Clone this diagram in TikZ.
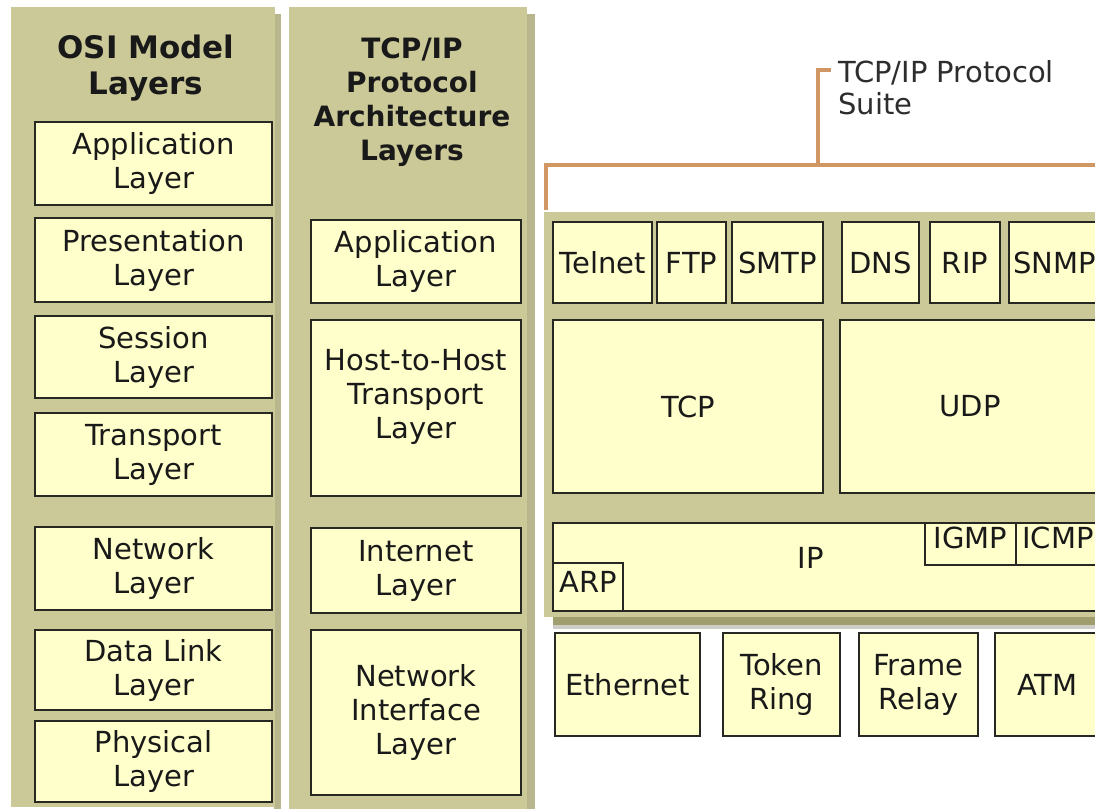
\documentclass[tikz,border=0pt]{standalone}
\usepackage{fontspec}
\setmainfont{DejaVu Sans}

\definecolor{panelbg}{RGB}{204,201,153}
\definecolor{colshadow}{RGB}{184,182,140}
\definecolor{panelshadow}{RGB}{160,157,110}
\definecolor{panelshadelt}{RGB}{205,205,200}
\definecolor{boxbg}{RGB}{255,255,204}
\definecolor{boxline}{RGB}{40,40,35}
\definecolor{braceline}{RGB}{208,150,100}
\definecolor{inkc}{RGB}{25,25,25}

\tikzset{
  layerbox/.style={draw=boxline, line width=2.5pt, fill=boxbg, inner sep=0pt,
    align=center, text=inkc, font=\fontsize{29}{34}\selectfont},
  coltitle/.style={inner sep=0pt, align=center, text=inkc},
  suitetext/.style={inner sep=0pt, align=left, text={rgb,255:red,45;green,45;blue,45},
    font=\fontsize{29}{32}\selectfont},
  brace/.style={draw=braceline, line width=4pt},
  plaintext/.style={inner sep=0pt, text=inkc, font=\fontsize{29}{34}\selectfont},
}

% box given by its corners (x1,y1) and (x2,y2), y measured downwards
\newcommand{\layerrect}[7][]{%
  \node[layerbox,minimum width={(#5)-(#3)},minimum height={(#6)-(#4)},#1]
    (#2) at ({((#3)+(#5))/2},{((#4)+(#6))/2}) {#7};}

\begin{document}
\begin{tikzpicture}[x=1pt,y=-1pt]
\useasboundingbox (0,0) rectangle (1095,809);
\clip (0,0) rectangle (1095,809);
\fill[white] (0,0) rectangle (1095,809);

% column backgrounds with their shadow strips
\fill[colshadow] (274,14) rectangle (281,809);
\fill[colshadow] (526,14) rectangle (535,809);
\fill[panelbg] (11,7) rectangle (275,807);
\fill[panelbg] (289,7) rectangle (527,809);

% protocol suite panel
\fill[panelbg] (544,212) rectangle (1100,617);
\fill[panelshadow] (553,617) rectangle (1100,625);
\fill[panelshadelt] (553,625) rectangle (1100,629);

% column titles
\node[coltitle, anchor=north, font=\bfseries\fontsize{31}{36}\selectfont]
  (osititle) at (146,35) {OSI Model\\Layers};
\node[coltitle, anchor=north, font=\bfseries\fontsize{28}{34}\selectfont]
  (tcptitle) at (412,38) {TCP/IP\\Protocol\\Architecture\\Layers};

% OSI model layers
\layerrect{osiapp}{35}{122}{272}{205}{Application\\Layer}
\layerrect{osipres}{35}{218}{272}{302}{Presentation\\Layer}
\layerrect{osisess}{35}{316}{272}{398}{Session\\Layer}
\layerrect{ositrans}{35}{413}{272}{496}{Transport\\Layer}
\layerrect{osinet}{35}{527}{272}{610}{Network\\Layer}
\layerrect{osidl}{35}{630}{272}{710}{Data Link\\Layer}
\layerrect{osiphys}{35}{721}{272}{802}{Physical\\Layer}

% TCP/IP architecture layers
\layerrect{tcpapp}{311}{220}{521}{303}{Application\\Layer}
\layerrect{tcphost}{311}{320}{521}{496}{Host-to-Host\\Transport\\Layer\\[-5pt]\mbox{}}
\layerrect{tcpinet}{311}{528}{521}{613}{Internet\\Layer}
\layerrect{tcpnif}{311}{630}{521}{795}{Network\\Interface\\Layer}

% application protocols
\layerrect{telnet}{553}{222}{652}{303}{Telnet}
\layerrect{ftp}{657}{222}{726}{303}{FTP}
\layerrect{smtp}{732}{222}{823}{303}{SMTP}
\layerrect{dns}{842}{222}{919}{303}{DNS}
\layerrect{rip}{930}{222}{1000}{303}{RIP}
\layerrect{snmp}{1009}{222}{1100}{303}{SNMP}

% transport protocols
\layerrect{tcp}{553}{320}{823}{493}{TCP}
\layerrect{udp}{840}{320}{1100}{493}{UDP}

% internet layer protocols
\layerrect{ip}{553}{523}{1100}{611}{}
\node[plaintext, anchor=base] (iplbl) at (811,568) {IP};
\layerrect[text height=21pt, text depth=13pt]{igmp}{925}{523}{1016}{565}{IGMP}
\layerrect[text height=21pt, text depth=13pt]{icmp}{1016}{523}{1100}{565}{ICMP}
\layerrect[text height=21pt, text depth=11pt]{arp}{553}{563}{623}{611}{ARP}

% network interface technologies
\layerrect{ethernet}{555}{633}{700}{736}{Ethernet}
\layerrect{tokenring}{723}{633}{840}{736}{Token\\Ring}
\layerrect{framerelay}{859}{633}{978}{736}{Frame\\Relay}
\layerrect{atm}{995}{633}{1100}{736}{ATM}

% bracket spanning the protocol suite
\coordinate (braceleft) at (546,210);
\coordinate (bracecorner) at (546,165);
\coordinate (braceright) at (1100,165);
\coordinate (stembase) at (818,165);
\coordinate (stemtop) at (818,70);
\coordinate (stemhook) at (831,70);
\draw[brace] (braceleft) -- (bracecorner) -- (braceright);
\draw[brace] (stembase) -- (stemtop) -- (stemhook);
\node[suitetext, anchor=north west] (suitelbl) at (838,60) {TCP/IP Protocol\\Suite};
\end{tikzpicture}
\end{document}
